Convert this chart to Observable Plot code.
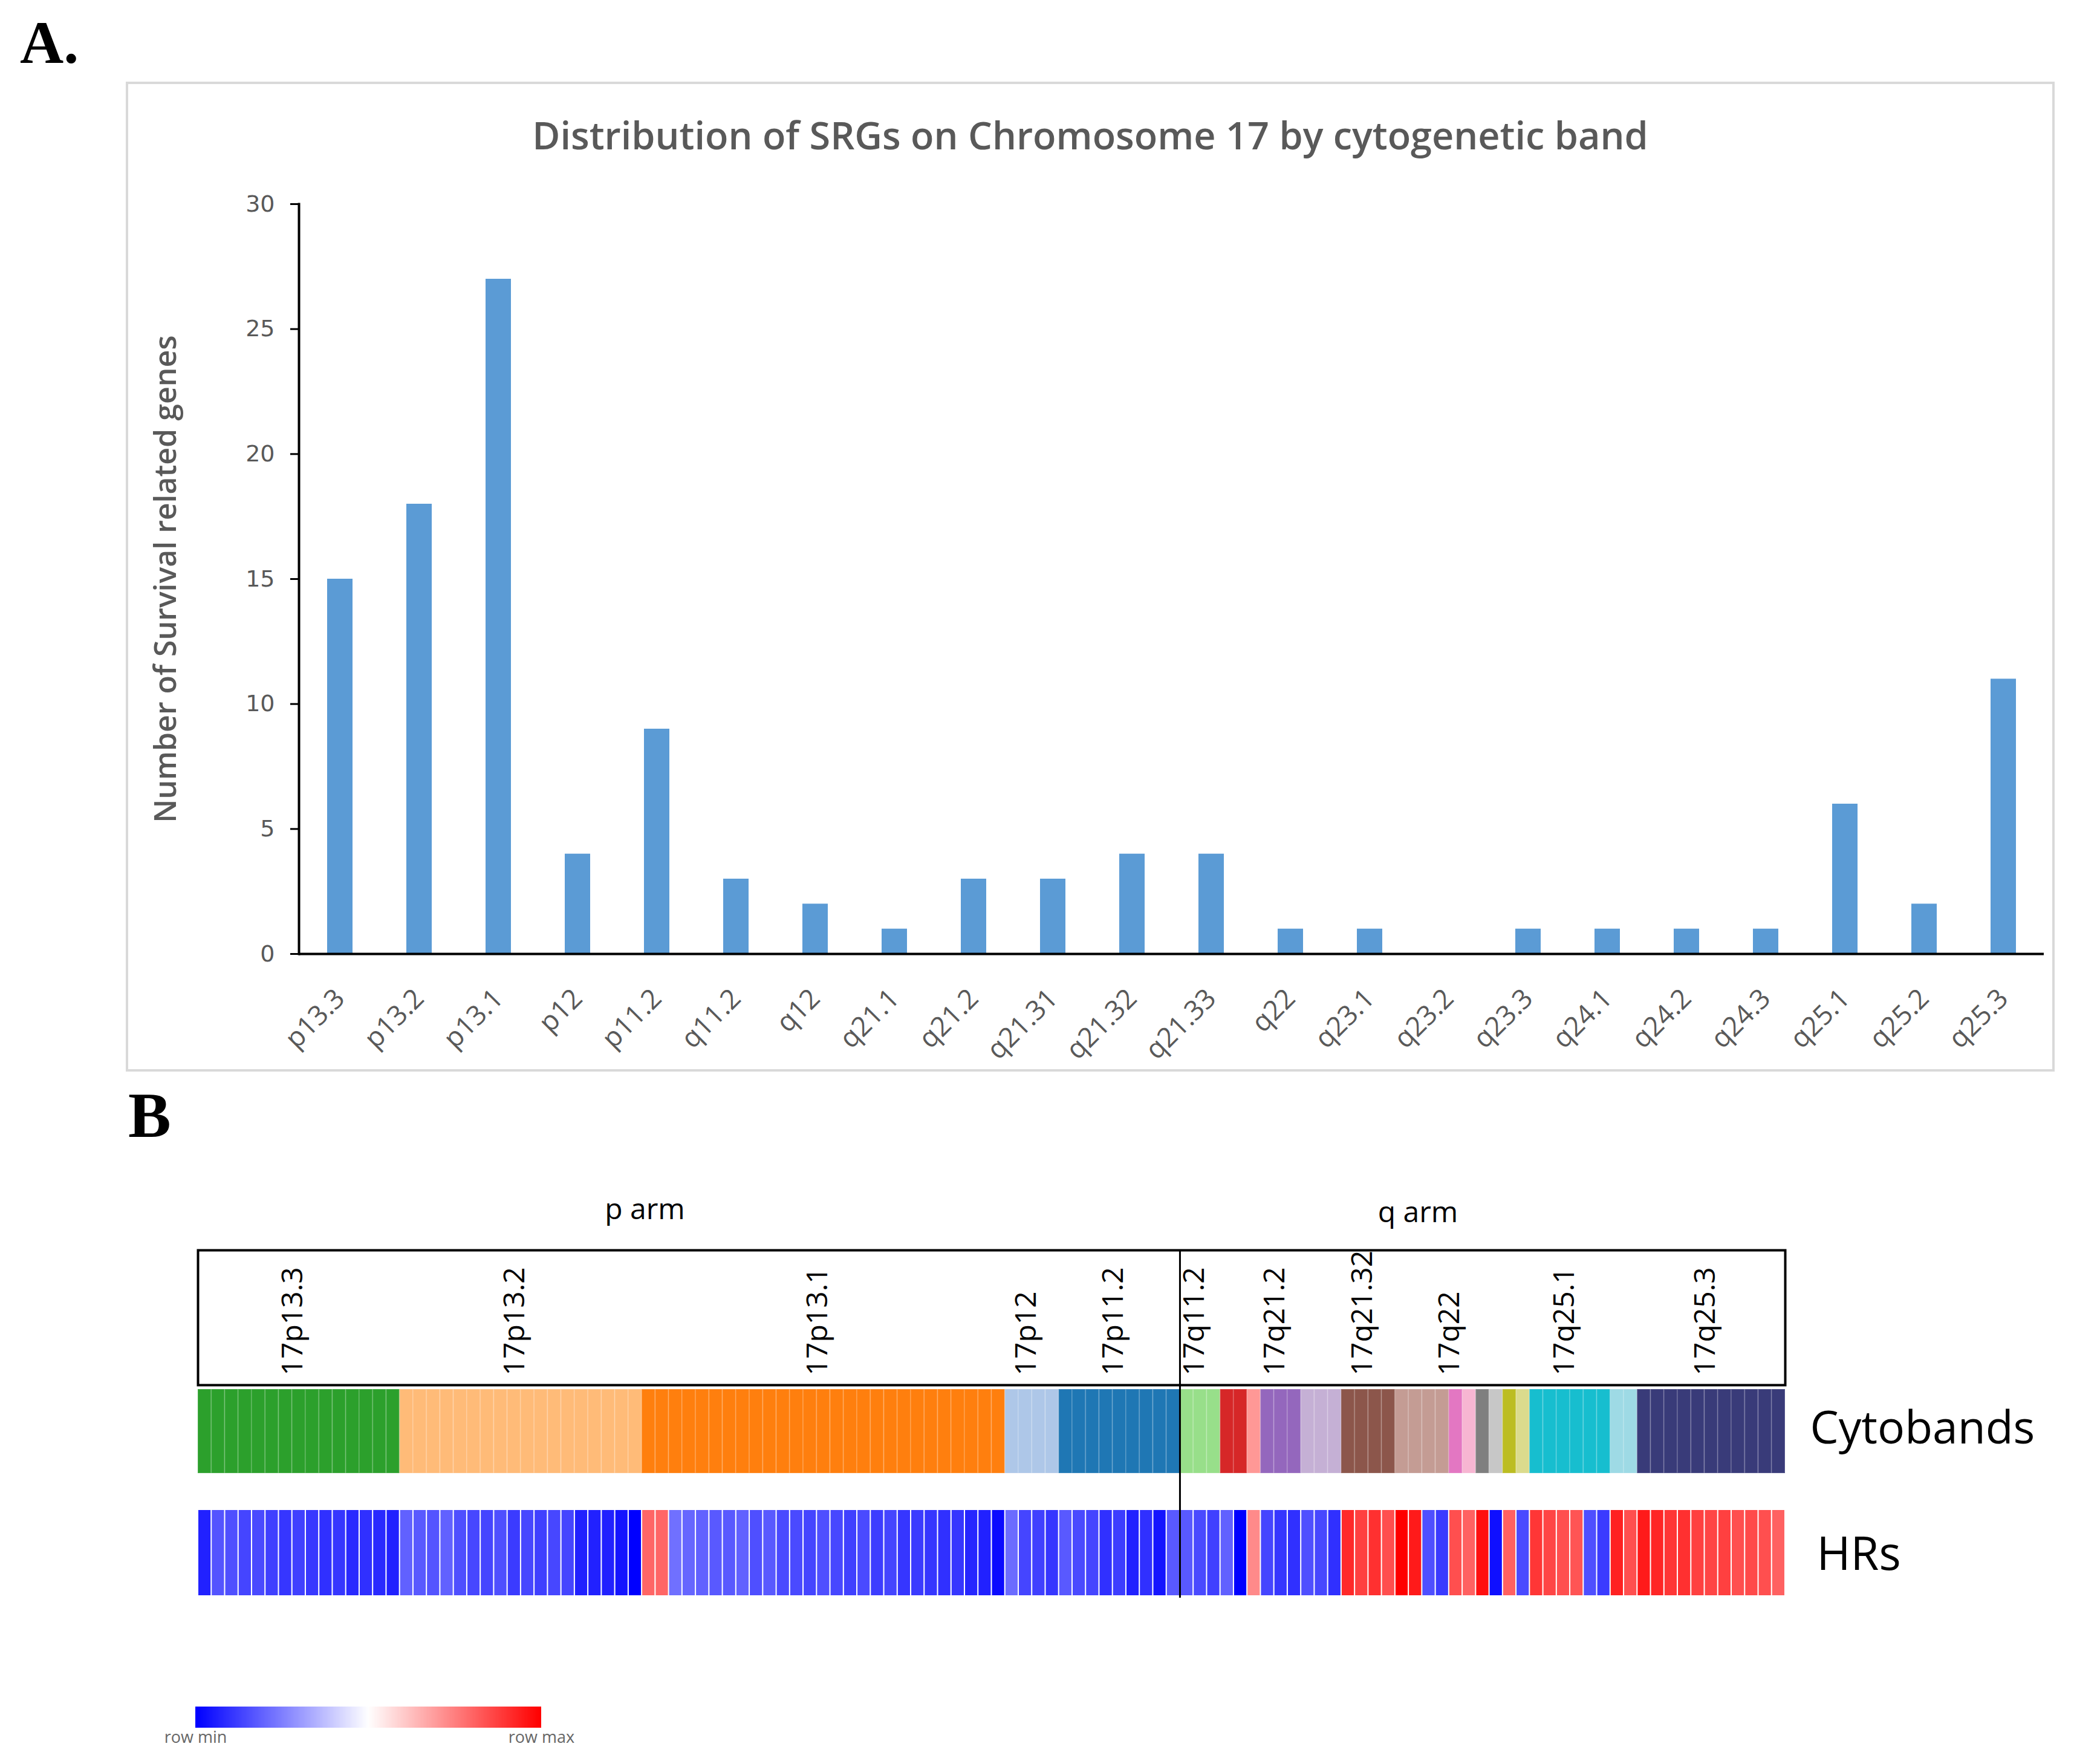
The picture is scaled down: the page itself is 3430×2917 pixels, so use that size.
<!DOCTYPE html>
<html><head><meta charset="utf-8">
<script src="https://cdn.jsdelivr.net/npm/d3@7"></script>
<script src="https://cdn.jsdelivr.net/npm/@observablehq/plot@0.6"></script>
<style>
html,body{margin:0;padding:0;background:#fff;}
#root{position:relative;width:3430px;height:2917px;background:#fff;overflow:hidden;}
.abs{position:absolute;left:0;}
svg{max-width:none !important;}
#legendWrap .tick line, #legendWrap .domain{display:none;}
</style></head><body><div id="root"></div>
<script>
// ---------- DATA ----------
const bands = ["p13.3","p13.2","p13.1","p12","p11.2","q11.2","q12","q21.1","q21.2","q21.31","q21.32","q21.33","q22","q23.1","q23.2","q23.3","q24.1","q24.2","q24.3","q25.1","q25.2","q25.3"];
const counts = [15,18,27,4,9,3,2,1,3,3,4,4,1,1,0,1,1,1,1,6,2,11];
const yTicks = [0,5,10,15,20,25,30];
const titleText = "Distribution of SRGs on Chromosome 17 by cytogenetic band";
const yLabel = "Number of Survival related genes";
// relative HR per gene (row-scaled: -1 = row min, +1 = row max), in chromosome order
const hrValues = [
 -0.87,-0.67,-0.69,-0.73,-0.71,-0.75,-0.79,-0.75,-0.78,-0.81,-0.79,-0.84,-0.81,-0.84,-0.87,
 -0.62,-0.65,-0.67,-0.62,-0.69,-0.72,-0.73,-0.69,-0.77,-0.72,-0.75,-0.72,-0.73,-0.87,-0.87,-0.87,-0.92,-1.00,
 0.60,0.60,-0.56,-0.60,-0.62,-0.65,-0.65,-0.62,-0.69,-0.65,-0.71,-0.71,-0.73,-0.69,-0.72,-0.75,-0.71,-0.76,-0.73,-0.79,-0.77,-0.79,-0.81,-0.79,-0.85,-0.87,-0.96,
 -0.58,-0.73,-0.75,-0.79,
 -0.65,-0.71,-0.73,-0.81,-0.76,-0.87,-0.81,-0.92,-0.65,
 -0.65,-0.71,-0.75,
 -0.62,-1.00,
 0.46,
 -0.73,-0.79,-0.81,
 -0.69,-0.72,-0.81,
 0.84,0.75,0.81,0.69,
 1.00,0.90,-0.69,-0.77,
 0.69,
 0.62,
 0.94,
 -0.94,
 0.62,
 -0.71,
 0.79,0.73,0.69,0.67,-0.69,-0.77,
 0.87,0.69,
 0.90,0.85,0.79,0.81,0.75,0.73,0.75,0.69,0.71,0.69,0.62
];
const labeledBands = ["p13.3","p13.2","p13.1","p12","p11.2","q11.2","q21.2","q21.32","q22","q25.1","q25.3"];
const armLabels = ["p arm","q arm"];
const rowLabels = ["Cytobands","HRs"];
const legendLabels = ["row min","row max"];
const bandPalette = ["#2ca02c","#ffbb78","#ff7f0e","#aec7e8","#1f77b4","#98df8a","#d62728","#ff9896","#9467bd","#c5b0d5","#8c564b","#c49c94","#e377c2","#f7b6d2","#7f7f7f","#c7c7c7","#bcbd22","#dbdb8d","#17becf","#9edae5","#393b79"];
const hrRange = ["#0000ff","#ffffff","#ff0000"];

// ---------- DERIVED ----------
const total = d3.sum(counts);
const starts = Array.from(d3.cumsum([0, ...counts]));
const nzBands = bands.filter((b,i)=>counts[i]>0);
const genes = bands.flatMap((b,i)=>d3.range(counts[i]).map(()=>b)).map((band,i)=>({i, i2:i+1, band, hr: hrValues[i]}));
const pCount = d3.sum(counts.filter((c,i)=>bands[i].startsWith("p")));
const labelData = labeledBands.map(b=>{const k=bands.indexOf(b); return {text:"17"+b, x: starts[k]+counts[k]/2};});
const barData = bands.map((b,i)=>({band:b, count:counts[i]}));

const root = document.getElementById("root");
function place(el, left, top){ const d=document.createElement("div"); d.className="abs"; d.style.left=left+"px"; d.style.top=top+"px"; d.appendChild(el); root.appendChild(d); return d; }
function htmlText(txt, css){ const d=document.createElement("div"); d.textContent=txt; d.style.cssText="position:absolute;white-space:nowrap;"+css; root.appendChild(d); return d; }
const baseStyle = {background:"transparent", overflow:"visible", fontFamily:"Open Sans"};

// ---------- PANEL A ----------
htmlText("A.", 'left:33px;top:21px;font-family:"Liberation Serif",serif;font-weight:bold;font-size:100px;line-height:1;color:#000;');
const boxA = document.createElement("div");
boxA.style.cssText="position:absolute;left:208px;top:135px;width:3190px;height:1637px;box-sizing:border-box;border:4px solid #d9d9d9;";
root.appendChild(boxA);
htmlText(titleText, 'left:0;width:3606px;text-align:center;top:191px;font-family:"Open Sans";font-weight:600;font-size:63px;line-height:1;color:#595959;');

const chartA = Plot.plot({
  width:3430, height:1800,
  marginLeft:494, marginRight:50, marginTop:337, marginBottom:223,
  x:{domain:bands, paddingInner:0.68, paddingOuter:0.34},
  y:{domain:[0,30]},
  style:baseStyle,
  marks:[
    Plot.barY(barData, {x:"band", y:"count", fill:"#5b9bd5"}),
    Plot.ruleY([0], {stroke:"black", strokeWidth:4}),
    Plot.frame({anchor:"left", stroke:"black", strokeWidth:4}),
    Plot.axisY({ticks:yTicks, tickSize:14, tickPadding:26, fontSize:38, fill:"#595959", stroke:"black", strokeWidth:3, label:null, fontFamily:"DejaVu Sans"}),
    Plot.axisX({tickSize:0, tickPadding:66, tickRotate:-45, textAnchor:"end", fontSize:45, fill:"#595959", label:null, fontFamily:"Open Sans"}),
    Plot.text([yLabel], {frameAnchor:"left", textAnchor:"middle", rotate:-90, dx:-220, fontSize:50, fontWeight:600, fill:"#595959"})
  ]
});
place(chartA, 0, 0);

// ---------- PANEL B ----------
htmlText("B", 'left:212px;top:1792px;font-family:"Liberation Serif",serif;font-weight:bold;font-size:106px;line-height:1;color:#000;');

const xB = {domain:[0,total], axis:null};
const boxB = Plot.plot({
  width:3430, height:350, marginLeft:327, marginRight:478, marginTop:127, marginBottom:0,
  x:xB, style:baseStyle,
  marks:[
    Plot.frame({stroke:"black", strokeWidth:4}),
    Plot.ruleX([pCount], {stroke:"black", strokeWidth:3}),
    Plot.text(labelData, {x:"x", text:"text", frameAnchor:"bottom", rotate:-90, textAnchor:"start", dx:6, dy:-16, fontSize:48, fill:"black"}),
    Plot.text([armLabels[0]], {x:pCount/2, frameAnchor:"top", dy:-86, dx:-73, fontSize:48, fill:"black"}),
    Plot.text([armLabels[1]], {x:(pCount+total)/2, frameAnchor:"top", dy:-81, dx:-107, fontSize:48, fill:"black"})
  ]
});
place(boxB, 0, 1940);

const cyto = Plot.plot({
  width:3430, height:207, marginLeft:327, marginRight:478, marginTop:0, marginBottom:0,
  x:xB, color:{domain:nzBands, range:bandPalette}, style:baseStyle,
  marks:[
    Plot.barX(genes, {x1:"i", x2:"i2", fill:"band", insetTop:7, insetBottom:61, stroke:"white", strokeOpacity:0.15, strokeWidth:2}),
    Plot.ruleX([pCount], {stroke:"black", strokeWidth:3}),
    Plot.text([rowLabels[0]], {frameAnchor:"right", textAnchor:"start", dx:41, dy:-31, fontSize:75, fill:"black"})
  ]
});
place(cyto, 0, 2290);

const hr = Plot.plot({
  width:3430, height:145, marginLeft:327, marginRight:478, marginTop:0, marginBottom:0,
  x:xB, color:{type:"linear", domain:[-1,0,1], range:hrRange}, style:baseStyle,
  marks:[
    Plot.barX(genes, {x1:"i", x2:"i2", fill:"hr", insetLeft:1, insetRight:1, insetBottom:4}),
    Plot.ruleX([pCount], {stroke:"black", strokeWidth:3}),
    Plot.text([rowLabels[1]], {frameAnchor:"right", textAnchor:"start", dx:52, dy:2, fontSize:76, fill:"black"})
  ]
});
place(hr, 0, 2497);

const legend = Plot.legend({
  color:{type:"linear", domain:[-1,0,1], range:hrRange},
  width:692, height:85, marginLeft:60, marginRight:60, marginTop:10, marginBottom:40,
  tickSize:3, ticks:[-1,1], tickFormat:d=> d<0 ? legendLabels[0] : legendLabels[1],
  label:null,
  style:{fontSize:"27px", fontFamily:"Open Sans", color:"#666", background:"transparent", overflow:"visible"}
});
const lw = place(legend, 263, 2812);
lw.id = "legendWrap";
</script></body></html>
